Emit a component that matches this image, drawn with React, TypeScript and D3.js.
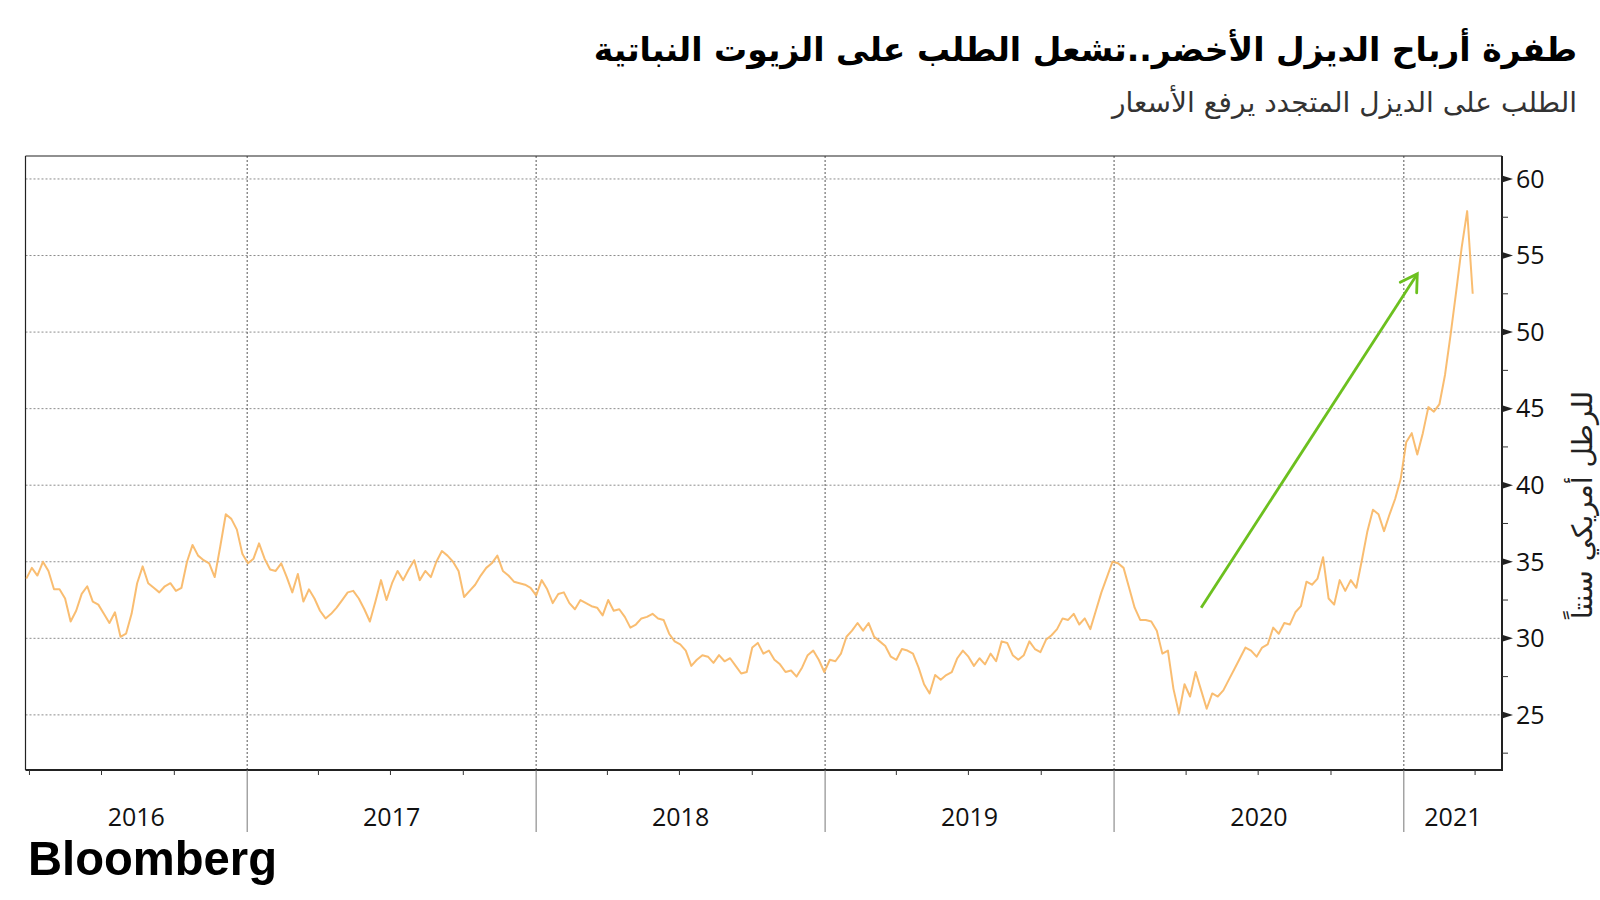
import React from "react";
import * as d3 from "d3";

const TITLE = "طفرة أرباح الديزل الأخضر..تشعل الطلب على الزيوت النباتية";
const SUBTITLE = "الطلب على الديزل المتجدد يرفع الأسعار";
const Y_TITLE_WORDS = ["سنتاً", "أمريكي", "للرطل"];
const SOURCE = "Bloomberg";

// weekly soybean-oil prices (US cents per lb), first week starting 2016-03-28
const FIRST_WEEK = "2016-03-28";
const prices2016 = [
  33.9, 34.6, 34.1, 35.0, 34.4, 33.2, 33.2, 32.6, 31.1, 31.8,
  32.9, 33.4, 32.4, 32.2, 31.6, 31.0, 31.7, 30.1, 30.3, 31.6,
  33.6, 34.7, 33.6, 33.3, 33.0, 33.4, 33.6, 33.1, 33.3, 35.0,
  36.1, 35.4, 35.1, 34.9, 34.0, 36.0, 38.1, 37.8, 37.1, 35.5,
];
const prices2017 = [
  34.9, 35.2, 36.2, 35.2, 34.5, 34.4, 34.9, 34.0, 33.0, 34.2,
  32.4, 33.2, 32.6, 31.8, 31.3, 31.6, 32.0, 32.5, 33.0, 33.1,
  32.6, 31.9, 31.1, 32.4, 33.8, 32.5, 33.6, 34.4, 33.8, 34.5,
  35.1, 33.8, 34.4, 34.0, 35.0, 35.7, 35.4, 35.0, 34.4, 32.7,
  33.1, 33.5, 34.1, 34.6, 34.9, 35.4, 34.4, 34.1, 33.7, 33.6,
  33.5, 33.3,
];
const prices2018 = [
  32.8, 33.8, 33.2, 32.3, 32.9, 33.0, 32.3, 31.9, 32.5, 32.3,
  32.1, 32.0, 31.5, 32.5, 31.8, 31.9, 31.4, 30.7, 30.9, 31.3,
  31.4, 31.6, 31.3, 31.2, 30.3, 29.8, 29.6, 29.2, 28.2, 28.6,
  28.9, 28.8, 28.4, 28.9, 28.5, 28.7, 28.2, 27.7, 27.8, 29.4,
  29.7, 29.0, 29.2, 28.6, 28.3, 27.8, 27.9, 27.5, 28.1, 28.9,
  29.2, 28.6,
];
const prices2019 = [
  27.8, 28.6, 28.5, 29.0, 30.1, 30.5, 31.0, 30.5, 31.0, 30.1,
  29.8, 29.5, 28.8, 28.6, 29.3, 29.2, 29.0, 28.1, 27.0, 26.4,
  27.6, 27.3, 27.6, 27.8, 28.7, 29.2, 28.8, 28.2, 28.7, 28.3,
  29.0, 28.5, 29.8, 29.7, 28.9, 28.6, 28.9, 29.8, 29.3, 29.1,
  29.9, 30.2, 30.6, 31.3, 31.2, 31.6, 30.9, 31.3, 30.6, 31.8,
  33.0, 34.0,
];
const prices2020 = [
  35.0, 34.9, 34.6, 33.3, 32.0, 31.2, 31.2, 31.1, 30.5, 29.0,
  29.2, 26.7, 25.1, 27.0, 26.2, 27.8, 26.6, 25.4, 26.4, 26.2,
  26.6, 27.3, 28.0, 28.7, 29.4, 29.2, 28.8, 29.4, 29.6, 30.7,
  30.3, 31.0, 30.9, 31.7, 32.1, 33.7, 33.5, 33.9, 35.3, 32.6,
  32.2, 33.8, 33.1, 33.8, 33.3, 35.1, 37.0, 38.4, 38.1, 37.0,
  38.1, 39.1,
];
const prices2021 = [
  40.4, 42.8, 43.4, 42.0, 43.4, 45.1, 44.8, 45.3, 47.2, 49.8,
  52.6, 55.5, 57.9, 52.5,
];

const yearLabels = ["2016", "2017", "2018", "2019", "2020", "2021"];
const yearStarts = ["2017-01-01", "2018-01-01", "2019-01-01", "2020-01-01", "2021-01-01"];
const yTicks = [25, 30, 35, 40, 45, 50, 55, 60];
const yMinorTicks = [22.5, 27.5, 32.5, 37.5, 42.5, 47.5, 52.5, 57.5];
const X_DOMAIN = ["2016-03-27", "2021-05-05"];
const Y_DOMAIN = [21.4, 61.5];

const arrowStart = { date: "2020-04-20", value: 32.0 };
const arrowEnd = { date: "2021-01-18", value: 53.8 };

const W = 1600;
const H = 900;
const M = { left: 25.5, right: 1502, top: 156, bottom: 770 };

const parse = d3.timeParse("%Y-%m-%d");

export default function App() {
  const allPrices = [
    ...prices2016, ...prices2017, ...prices2018,
    ...prices2019, ...prices2020, ...prices2021,
  ];
  const first = parse(FIRST_WEEK) as Date;
  const data = allPrices.map((v, i) => ({ date: d3.timeDay.offset(first, 7 * i), value: v }));

  const x = d3.scaleTime()
    .domain(X_DOMAIN.map((d) => parse(d) as Date))
    .range([M.left, M.right]);
  const y = d3.scaleLinear().domain(Y_DOMAIN).range([M.bottom, M.top]);

  const line = d3.line<{ date: Date; value: number }>()
    .x((d) => x(d.date))
    .y((d) => y(d.value));

  const yearDates = yearStarts.map((d) => parse(d) as Date);
  const bounds = [x.domain()[0], ...yearDates, x.domain()[1]];
  const quarterTicks = d3.timeMonth.every(3)!
    .range(x.domain()[0], x.domain()[1])
    .filter((d) => d.getMonth() !== 0);

  // arrow annotation
  const ax1 = x(parse(arrowStart.date) as Date);
  const ay1 = y(arrowStart.value);
  const ax2 = x(parse(arrowEnd.date) as Date);
  const ay2 = y(arrowEnd.value);
  const ang = Math.atan2(ay1 - ay2, ax1 - ax2);
  const armL = 19;
  const spread = (31 * Math.PI) / 180;
  const arm1 = [ax2 + armL * Math.cos(ang + spread), ay2 + armL * Math.sin(ang + spread)];
  const arm2 = [ax2 + armL * Math.cos(ang - spread), ay2 + armL * Math.sin(ang - spread)];

  const arabic = "'DejaVu Sans', 'Noto Sans', sans-serif";
  const num = "'Open Sans', 'DejaVu Sans', sans-serif";
  const yTitle = Y_TITLE_WORDS.join("\u200E \u200E");

  return (
    <svg
      width={W}
      height={H}
      style={{ position: "absolute", left: 0, top: 0, background: "#fff" }}
    >
      <rect x={0} y={0} width={W} height={H} fill="#fff" />
      {/* title & subtitle */}
      <text x={1577} y={61} textAnchor="end" fontFamily={arabic}
        fontWeight="bold" fontSize={33} fill="#000">{TITLE}</text>
      <text x={1577} y={112} textAnchor="end" fontFamily={arabic}
        fontSize={28} fill="#333">{SUBTITLE}</text>

      {/* horizontal grid */}
      {yTicks.map((t) => (
        <line key={"hg" + t} x1={M.left} x2={M.right} y1={y(t)} y2={y(t)}
          stroke="#8c8c8c" strokeWidth={1} strokeDasharray="2,2" />
      ))}
      {/* vertical grid at year starts */}
      {yearDates.map((d, i) => (
        <line key={"vg" + i} x1={x(d)} x2={x(d)} y1={M.top} y2={M.bottom}
          stroke="#555" strokeWidth={1} strokeDasharray="2,2" />
      ))}

      {/* frame */}
      <line x1={M.left} x2={M.left} y1={M.top} y2={M.bottom} stroke="#222" strokeWidth={1.2} />
      <line x1={M.left} x2={M.right} y1={M.top} y2={M.top} stroke="#222" strokeWidth={1.2} />

      {/* price line */}
      <path d={line(data) || ""} fill="none" stroke="#f8b662" strokeWidth={2}
        strokeOpacity={0.9} strokeLinejoin="round" />

      {/* arrow */}
      <line x1={ax1} y1={ay1} x2={ax2} y2={ay2} stroke="#6cc01f" strokeWidth={2.8} />
      <polyline points={`${arm1[0]},${arm1[1]} ${ax2},${ay2} ${arm2[0]},${arm2[1]}`}
        fill="none" stroke="#6cc01f" strokeWidth={2.8} strokeLinecap="round" />

      {/* bottom axis */}
      <line x1={M.left} x2={M.right + 1} y1={M.bottom} y2={M.bottom} stroke="#222" strokeWidth={2} />
      {quarterTicks.map((d, i) => (
        <line key={"qt" + i} x1={x(d)} x2={x(d)} y1={M.bottom} y2={M.bottom + 5}
          stroke="#333" strokeWidth={1} />
      ))}
      {yearDates.map((d, i) => (
        <line key={"ys" + i} x1={x(d)} x2={x(d)} y1={M.bottom} y2={832}
          stroke="#777" strokeWidth={1} />
      ))}
      {yearLabels.map((lab, i) => (
        <text key={"yl" + lab} x={(x(bounds[i]) + x(bounds[i + 1])) / 2} y={826}
          textAnchor="middle" fontFamily={num} fontSize={25} fill="#111">{lab}</text>
      ))}

      {/* right axis */}
      <line x1={M.right} x2={M.right} y1={M.top} y2={M.bottom + 1} stroke="#222" strokeWidth={2} />
      {yMinorTicks.map((t) => (
        <line key={"mt" + t} x1={M.right} x2={M.right + 6} y1={y(t)} y2={y(t)}
          stroke="#333" strokeWidth={1} />
      ))}
      {yTicks.map((t) => (
        <g key={"yt" + t}>
          <path d={`M${M.right},${y(t) - 3.5} L${M.right + 11},${y(t)} L${M.right},${y(t) + 3.5} Z`}
            fill="#222" />
          <text x={M.right + 14} y={y(t)} dy="0.35em" fontFamily={num} fontSize={25}
            fill="#111">{t}</text>
        </g>
      ))}
      <text transform={`translate(1582,505) rotate(-90)`} textAnchor="middle" direction="ltr"
        dy="0.35em" fontFamily={arabic} fontSize={28} fill="#222">{yTitle}</text>

      {/* source logo */}
      <text x={28} y={875} fontFamily="'Liberation Sans', Arial, sans-serif" fontWeight="bold"
        fontSize={49} textLength={249} lengthAdjust="spacingAndGlyphs" fill="#000">{SOURCE}</text>
    </svg>
  );
}
